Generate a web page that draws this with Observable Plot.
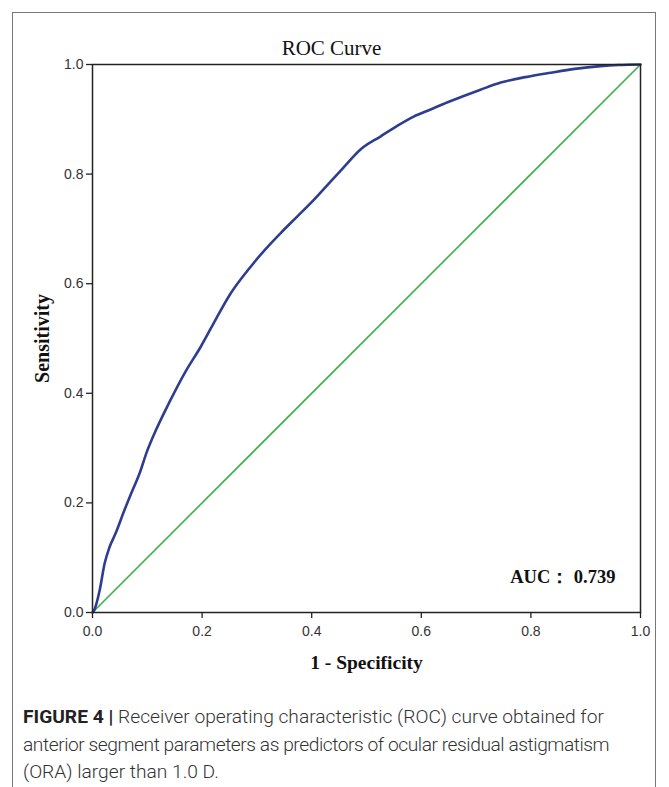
<!DOCTYPE html>
<html>
<head>
<meta charset="utf-8">
<script src="https://cdn.jsdelivr.net/npm/d3@7"></script>
<script src="https://cdn.jsdelivr.net/npm/@observablehq/plot@0.6"></script>
<style>
  html, body { margin: 0; padding: 0; background: #fff; }
  #page { position: relative; width: 669px; height: 787px; overflow: hidden; }
  #frame { position: absolute; left: 12px; top: 12px; width: 644px; height: 800px; border: 1px solid #777; box-sizing: border-box; }
  #chart { position: absolute; left: 0; top: 0; }
  #caption { position: absolute; left: 23px; top: 703px; width: 635px; font-family: Roboto, "Liberation Sans", sans-serif; font-weight: 300; font-size: 19.2px; line-height: 27.5px; color: #333; white-space: nowrap; }
  #caption .b { font-weight: 700; color: #222; }
  #caption .tight { letter-spacing: -0.45px; }
</style>
</head>
<body>
<div id="page">
  <div id="frame"></div>
  <div id="chart"></div>
  <div id="caption">
    <div><span class="b">FIGURE 4 |</span><span> Receiver operating characteristic (ROC) curve obtained for</span></div>
    <div class="tight">anterior segment parameters as predictors of ocular residual astigmatism</div>
    <div>(ORA) larger than 1.0 D.</div>
  </div>
</div>
<script>
// ROC curve points
const fpr = [0, 0.003, 0.013, 0.022, 0.031, 0.042, 0.058, 0.073, 0.086, 0.098, 0.111, 0.142, 0.17, 0.197, 0.225, 0.252, 0.283, 0.313, 0.343, 0.373, 0.403, 0.434, 0.458, 0.489, 0.526, 0.556, 0.586, 0.617, 0.648, 0.708, 0.745, 0.79, 0.836, 0.88, 0.927, 0.96, 1];
const tpr = [0, 0.004, 0.04, 0.089, 0.119, 0.144, 0.186, 0.223, 0.254, 0.29, 0.322, 0.387, 0.44, 0.484, 0.535, 0.582, 0.624, 0.66, 0.692, 0.722, 0.752, 0.786, 0.812, 0.845, 0.869, 0.888, 0.905, 0.918, 0.931, 0.954, 0.967, 0.977, 0.985, 0.992, 0.997, 0.999, 1];
// Reference (chance) diagonal
const refX = [0, 1];
const refY = [0, 1];
const ticks = [0, 0.2, 0.4, 0.6, 0.8, 1.0];
const titleText = "ROC Curve";
const xLabel = "1 - Specificity";
const yLabel = "Sensitivity";
const aucText = "AUC\uFF1A 0.739";

const roc = fpr.map((x, i) => ({x, y: tpr[i]}));
const diag = refX.map((x, i) => ({x, y: refY[i]}));

const serif = "'Liberation Serif', 'Times New Roman', serif";

const plot = Plot.plot({
  width: 669,
  height: 690,
  marginLeft: 92,
  marginRight: 29,
  marginTop: 64,
  marginBottom: 78,
  style: {fontFamily: "'Liberation Sans', Arial, sans-serif", fontSize: "14px", color: "#333", background: "transparent"},
  x: {domain: [0, 1], ticks, tickFormat: d3.format(".1f"), label: null},
  y: {domain: [0, 1], ticks, tickFormat: d3.format(".1f"), label: null},
  marks: [
    Plot.axisX({ticks, tickFormat: d3.format(".1f"), tickSize: 6, tickPadding: 8, stroke: "#222", strokeWidth: 1.3, fill: "#333", fontSize: 14, label: null}),
    Plot.axisY({ticks, tickFormat: d3.format(".1f"), tickSize: 6, tickPadding: 3, stroke: "#222", strokeWidth: 1.3, fill: "#333", fontSize: 14, label: null}),
    Plot.line(diag, {x: "x", y: "y", stroke: "#3fb04a", strokeWidth: 1.6}),
    Plot.line(roc, {x: "x", y: "y", stroke: "#2e3d8f", strokeWidth: 2.6, curve: "monotone-x"}),
    Plot.frame({stroke: "#222", strokeWidth: 1.5}),
    Plot.text([titleText], {text: d => d, frameAnchor: "top", lineAnchor: "middle", dy: -16, dx: -35, fontFamily: serif, fontSize: 21, fill: "#111"}),
    Plot.text([xLabel], {text: d => d, frameAnchor: "bottom", lineAnchor: "middle", dy: 50, fontFamily: serif, fontWeight: "bold", fontSize: 19.5, fill: "#111"}),
    Plot.text([yLabel], {text: d => d, frameAnchor: "left", textAnchor: "middle", lineAnchor: "middle", rotate: -90, dx: -50, fontFamily: serif, fontWeight: "bold", fontSize: 20, fill: "#111"}),
    Plot.text([aucText], {text: d => d, frameAnchor: "bottom-right", textAnchor: "end", lineAnchor: "middle", dx: -25, dy: -35, fontFamily: serif, fontWeight: "bold", fontSize: 18.5, fill: "#111"})
  ]
});
document.getElementById("chart").appendChild(plot);
</script>
</body>
</html>
